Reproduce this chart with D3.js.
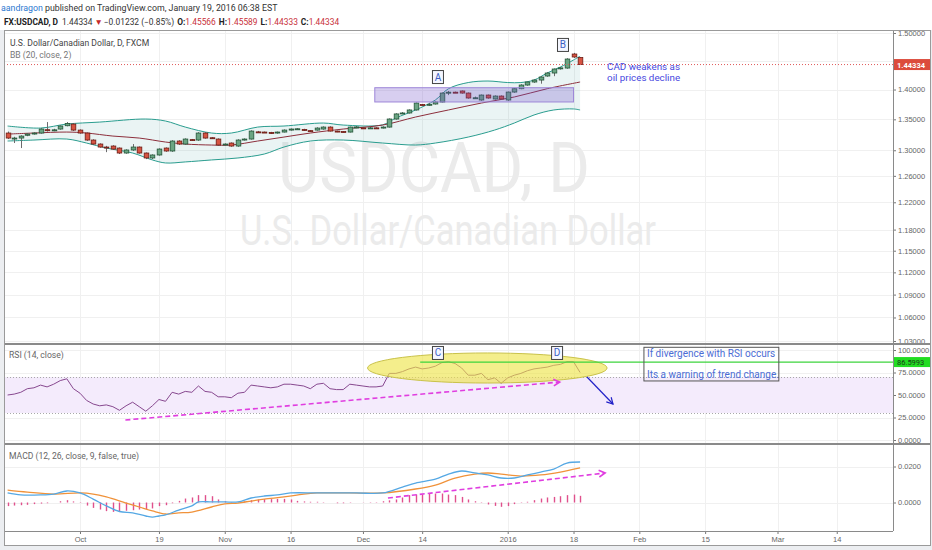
<!DOCTYPE html>
<html lang="en">
<head>
<meta charset="utf-8">
<title>USDCAD, D</title>
<script src="https://cdn.jsdelivr.net/npm/d3@7"></script>
<style>
  body { margin: 0; background: #fff; }
  svg { display: block; font-family: Roboto, "Liberation Sans", sans-serif; }
</style>
</head>
<body>
<script>
// ---- data (bar index 0 = Sep 16 2015, 87 = Jan 19 2016) ----
const tickIdx = [11, 23, 33, 43, 54, 63, 76, 86, 96, 106, 117, 126];
const tickLab = ["Oct", "19", "Nov", "16", "Dec", "14", "2016", "18", "Feb", "15", "Mar", "14"];

const open = [1.3276,1.3180,1.3195,1.3240,1.3265,1.3276,1.3330,1.3318,1.3341,1.3395,
  1.3422,1.3324,1.3276,1.3163,1.3099,1.3051,1.3067,1.3035,1.2956,1.3004,
  1.3051,1.2956,1.2878,1.2925,1.3035,1.2988,1.3147,1.3099,1.3170,1.3163,
  1.3276,1.3200,1.3179,1.3090,1.3115,1.3067,1.3165,1.3179,1.3295,1.3292,
  1.3285,1.3276,1.3292,1.3324,1.3341,1.3335,1.3315,1.3324,1.3341,1.3373,
  1.3308,1.3300,1.3292,1.3370,1.3360,1.3357,1.3360,1.3357,1.3373,1.3505,
  1.3595,1.3605,1.3655,1.3745,1.3740,1.3755,1.3788,1.3945,1.3955,1.3975,
  1.3940,1.3855,1.3822,1.3906,1.3839,1.3889,1.3822,1.3957,1.4014,1.4077,
  1.4129,1.4163,1.4233,1.4285,1.4360,1.4372,1.4620,1.45566];
const high = [1.3300,1.3215,1.3240,1.3275,1.3290,1.3355,1.3455,1.3345,1.3400,1.3455,
  1.3440,1.3335,1.3285,1.3175,1.3110,1.3070,1.3080,1.3045,1.3015,1.3099,
  1.3060,1.2965,1.2935,1.3030,1.3045,1.3160,1.3160,1.3190,1.3180,1.3290,
  1.3290,1.3210,1.3190,1.3110,1.3125,1.3175,1.3190,1.3320,1.3310,1.3300,
  1.3295,1.3300,1.3335,1.3350,1.3355,1.3345,1.3320,1.3370,1.3385,1.3385,
  1.3315,1.3305,1.3380,1.3390,1.3375,1.3375,1.3370,1.3385,1.3515,1.3600,
  1.3620,1.3665,1.3780,1.3755,1.3775,1.3800,1.3950,1.3975,1.3965,1.3985,
  1.3950,1.3880,1.3915,1.3915,1.3900,1.3900,1.3965,1.4025,1.4090,1.4140,
  1.4175,1.4230,1.4300,1.4365,1.4390,1.4545,1.4640,1.45589];
const low = [1.3180,1.3115,1.3035,1.3225,1.3250,1.3265,1.3300,1.3305,1.3330,1.3385,
  1.3310,1.3265,1.3150,1.3085,1.3040,1.2970,1.3005,1.2940,1.2945,1.2990,
  1.2945,1.2860,1.2860,1.2915,1.2975,1.2975,1.3085,1.3085,1.3150,1.3150,
  1.3185,1.3180,1.3070,1.3080,1.3055,1.3055,1.3155,1.3170,1.3280,1.3280,
  1.3260,1.3265,1.3285,1.3315,1.3330,1.3310,1.3295,1.3315,1.3330,1.3300,
  1.3290,1.3285,1.3285,1.3355,1.3345,1.3345,1.3345,1.3350,1.3365,1.3495,
  1.3585,1.3595,1.3645,1.3730,1.3725,1.3745,1.3780,1.3905,1.3940,1.3930,
  1.3845,1.3840,1.3810,1.3845,1.3830,1.3825,1.3810,1.3945,1.4005,1.4065,
  1.4115,1.4100,1.4220,1.4230,1.4345,1.4360,1.4550,1.44333];
const close = [1.3195,1.3195,1.3227,1.3259,1.3276,1.3341,1.3320,1.3328,1.3390,1.3430,
  1.3324,1.3276,1.3163,1.3099,1.3051,1.3045,1.3019,1.2956,1.3004,1.3051,
  1.2956,1.2878,1.2925,1.3019,1.2988,1.3147,1.3099,1.3179,1.3160,1.3276,
  1.3195,1.3190,1.3083,1.3099,1.3067,1.3163,1.3179,1.3308,1.3290,1.3288,
  1.3270,1.3292,1.3324,1.3341,1.3345,1.3320,1.3305,1.3357,1.3373,1.3308,
  1.3300,1.3295,1.3373,1.3375,1.3357,1.3360,1.3355,1.3373,1.3505,1.3589,
  1.3605,1.3655,1.3771,1.3738,1.3750,1.3788,1.3940,1.3955,1.3950,1.3940,
  1.3856,1.3860,1.3906,1.3856,1.3889,1.3839,1.3957,1.4014,1.4077,1.4129,
  1.4163,1.4215,1.4285,1.4355,1.4375,1.4531,1.4567,1.44334];

// Bollinger bands (20, close, 2), sampled points
const bbUpIdx = [0,5,9,14,21,24,27,31,34,38,42,48,51,57,59,62,65,67,70,73,76,78,80,82,84,86,87];
const bbUp = [1.3390,1.3357,1.3422,1.3455,1.3505,1.3472,1.3373,1.3276,1.3276,1.3373,1.3390,1.3439,1.3406,1.3410,
  1.3522,1.3655,1.3822,1.4014,1.4120,1.4146,1.4120,1.4120,1.4163,1.4285,1.4390,1.4514,1.4582];
const bbMidIdx = [0,4,9,12,16,20,24,27,31,34,38,42,46,51,57,62,67,72,77,82,87];
const bbMid = [1.3259,1.3276,1.3292,1.3276,1.3227,1.3195,1.3131,1.3099,1.3083,1.3083,1.3147,1.3211,1.3276,
  1.3341,1.3406,1.3538,1.3655,1.3771,1.3873,1.4014,1.4129];
const bbLowIdx = [0,4,9,12,15,19,22,24,27,31,35,39,42,46,51,57,62,65,70,74,77,80,83,86,87];
const bbLow = [1.3147,1.3163,1.3179,1.3115,1.3035,1.2956,1.2847,1.2800,1.2816,1.2847,1.2878,1.2940,1.3051,
  1.3147,1.3163,1.3115,1.3083,1.3115,1.3211,1.3324,1.3439,1.3572,1.3655,1.3672,1.3655];

// RSI (14, close), one value per bar
const rsi = [50,51,53,57,58,61,59,62,66,68, 57,52,44,40,38,39,37,33,38,42,
  37,32,38,45,43,53,51,54,53,60, 54,53,48,48,47,52,53,61,60,59,
  58,59,62,62,61,60,57,62,63,57, 56,56,62,61,60,59,59,60,74,74,
  76,79,81,79,80,82,86,87,85,80, 72,72,74,67,69,63,69,72,74,77,
  79,80,81,83,84,87,87,75];

// MACD (12, 26, close, 9)
const macdIdx = [0,2,5,7,9,11,13,15,17,19,21,22,23,24,26,28,29,31,33,35,37,39,41,43,47,53,57,60,62,65,67,69,71,73,75,77,79,81,83,85,87];
const macdVal = [0.0053,0.0042,0.0042,0.0047,0.0064,0.0053,0.0019,-0.0019,-0.0050,-0.0058,-0.0075,-0.0081,-0.0075,-0.0069,
  -0.0042,-0.0019,0.0003,0.0003,0.0003,0.0003,0.0025,0.0036,0.0042,0.0053,0.0053,0.0053,0.0053,0.0086,0.0108,0.0130,
  0.0158,0.0175,0.0164,0.0153,0.0136,0.0136,0.0153,0.0169,0.0186,0.0219,0.0225];
const sigIdx = [0,3,7,11,13,15,18,20,22,24,26,28,31,33,35,37,39,42,45,47,52,57,62,65,68,71,73,75,78,81,84,87];
const sigVal = [0.0069,0.0058,0.0047,0.0053,0.0047,0.0031,-0.0003,-0.0025,-0.0047,-0.0064,-0.0058,-0.0053,-0.0025,
  -0.0008,-0.0003,0.0008,0.0019,0.0031,0.0047,0.0053,0.0053,0.0053,0.0075,0.0097,0.0136,0.0158,0.0164,0.0158,
  0.0147,0.0153,0.0169,0.0192];
const hist = [-0.0020,-0.0017,-0.0015,-0.0013,-0.0009,-0.0006,-0.0004,0,0.0007,0.0013,
  0.0006,-0.0002,-0.0017,-0.0030,-0.0039,-0.0048,-0.0052,-0.0052,-0.0046,-0.0043,
  -0.0039,-0.0037,-0.0033,-0.0020,-0.0015,-0.0004,0.0009,0.0022,0.0028,0.0041,
  0.0041,0.0035,0.0017,0.0007,0.0002,0.0002,0.0006,0.0013,0.0017,0.0019,
  0.0019,0.0020,0.0020,0.0017,0.0009,0.0006,0.0004,0.0004,0.0002,0,
  -0.0004,-0.0004,-0.0002,0,-0.0001,0.0002,0.0002,0.0007,0.0012,0.0017,
  0.0028,0.0041,0.0044,0.0046,0.0050,0.0050,0.0050,0.0044,0.0041,0.0031,
  0.0017,0.0007,0.0002,-0.0011,-0.0019,-0.0024,-0.0020,-0.0009,-0.0002,0.0004,
  0.0013,0.0022,0.0028,0.0031,0.0035,0.0041,0.0044,0.0037];

const priceGrid = [1.5,1.45,1.4,1.35,1.3,1.26,1.22,1.18,1.15,1.12,1.09,1.06,1.03];
const priceTicks = [1.5,1.4,1.35,1.3,1.26,1.22,1.18,1.15,1.12,1.09,1.06,1.03]; // 1.45 sits under the last-price tag
const rsiTicks = [100,75,50,25,0];
const macdTicks = [0.02,0];
const lastPrice = 1.44334;
const rsiLevel = 86.5993;

// ---- layout ----
const W = 932, H = 550;
const L = 4, R = 893;
const pane = { price: [31, 343], rsi: [345, 443], macd: [445, 531] };

const svg = d3.select("body").append("svg").attr("width", W).attr("height", H);

const x = d3.scaleLinear().domain([0, 87]).range([7.6, 580.1]);
const yP = d3.scaleLog().domain([1.03, 1.5]).range([341, 33]);
const yR = d3.scaleLinear().domain([0, 100]).range([440, 350]);
const yM = d3.scaleLinear().domain([0, 0.02]).range([502.5, 466.5]);

// background / frame
svg.append("rect").attr("width", W).attr("height", H).attr("fill", "#eceef1");
svg.append("rect").attr("width", W).attr("height", 30).attr("fill", "#fff");
svg.append("rect").attr("x", L).attr("y", 30).attr("width", W - L - 1).attr("height", 516).attr("fill", "#fff");

const defs = svg.append("defs");
Object.entries(pane).forEach(([k, p]) => {
  defs.append("clipPath").attr("id", "clip-" + k).append("rect")
    .attr("x", L).attr("y", p[0]).attr("width", R - L).attr("height", p[1] - p[0]);
});

// grid
const grid = svg.append("g").attr("stroke", "#f0f0f0").attr("stroke-width", 1);
grid.selectAll(".vg").data(tickIdx).join("line")
  .attr("x1", d => Math.round(x(d)) + 0.5).attr("x2", d => Math.round(x(d)) + 0.5)
  .attr("y1", pane.price[0]).attr("y2", pane.macd[1]);
grid.selectAll(".hp").data(priceGrid).join("line")
  .attr("x1", L).attr("x2", R).attr("y1", d => Math.round(yP(d)) + 0.5).attr("y2", d => Math.round(yP(d)) + 0.5);
grid.selectAll(".hr").data(rsiTicks).join("line")
  .attr("x1", L).attr("x2", R).attr("y1", d => Math.round(yR(d)) + 0.5).attr("y2", d => Math.round(yR(d)) + 0.5);
grid.selectAll(".hm").data(macdTicks).join("line")
  .attr("x1", L).attr("x2", R).attr("y1", d => Math.round(yM(d)) + 0.5).attr("y2", d => Math.round(yM(d)) + 0.5);

// watermark
svg.append("text").attr("x", 278).attr("y", 192).attr("font-size", 70)
  .attr("textLength", 312).attr("lengthAdjust", "spacingAndGlyphs")
  .attr("fill", "#ebebeb").text("USDCAD, D");
svg.append("text").attr("x", 240).attr("y", 245).attr("font-size", 42)
  .attr("textLength", 416).attr("lengthAdjust", "spacingAndGlyphs")
  .attr("fill", "#ebebeb").text("U.S. Dollar/Canadian Dollar");

// ---- price pane ----
const gP = svg.append("g").attr("clip-path", "url(#clip-price)");
const pts = (idx, val) => idx.map((d, i) => [d, val[i]]);
const lineP = d3.line().x(d => x(d[0])).y(d => yP(d[1])).curve(d3.curveCatmullRom.alpha(0.5));
const upPts = pts(bbUpIdx, bbUp), lowPts = pts(bbLowIdx, bbLow);
gP.append("path")
  .attr("d", lineP(upPts) + lineP(lowPts.slice().reverse()).replace(/^M/, "L") + "Z")
  .attr("fill", "rgba(25,135,135,0.09)");
gP.append("path").attr("d", lineP(upPts)).attr("fill", "none").attr("stroke", "#2a9d8f").attr("stroke-width", 1);
gP.append("path").attr("d", lineP(lowPts)).attr("fill", "none").attr("stroke", "#2a9d8f").attr("stroke-width", 1);
gP.append("path").attr("d", lineP(pts(bbMidIdx, bbMid))).attr("fill", "none").attr("stroke", "#8d2f3c").attr("stroke-width", 1);

// candles
const bw = 4.6;
const candles = gP.selectAll(".candle").data(d3.range(open.length)).join("g");
candles.append("line")
  .attr("x1", i => Math.round(x(i)) + 0.5).attr("x2", i => Math.round(x(i)) + 0.5)
  .attr("y1", i => yP(high[i])).attr("y2", i => yP(low[i]))
  .attr("stroke", "#6b6b6d").attr("stroke-width", 1);
candles.append("rect")
  .attr("x", i => Math.round(x(i)) + 0.5 - bw / 2)
  .attr("y", i => yP(Math.max(open[i], close[i])))
  .attr("width", bw)
  .attr("height", i => Math.max(1, yP(Math.min(open[i], close[i])) - yP(Math.max(open[i], close[i]))))
  .attr("fill", i => close[i] >= open[i] ? "#6ba583" : "#d75442")
  .attr("stroke", i => close[i] >= open[i] ? "#225437" : "#6b1a13")
  .attr("stroke-width", 0.8);

// consolidation box
const box = { i0: 55.8, i1: 86, p0: 1.4031, p1: 1.3789 };
gP.append("rect")
  .attr("x", x(box.i0)).attr("y", yP(box.p0))
  .attr("width", x(box.i1) - x(box.i0)).attr("height", yP(box.p1) - yP(box.p0))
  .attr("fill", "rgba(110,80,200,0.28)").attr("stroke", "#9d86d8").attr("stroke-width", 1);

// last price dotted line
gP.append("line").attr("x1", L).attr("x2", R)
  .attr("y1", yP(lastPrice)).attr("y2", yP(lastPrice))
  .attr("stroke", "#e05a5a").attr("stroke-width", 1).attr("stroke-dasharray", "1,2");

function tag(g, cx, cy, label) {
  g.append("rect").attr("x", cx - 5.5).attr("y", cy - 6.5).attr("width", 11).attr("height", 13)
    .attr("fill", "#f4f6ff").attr("stroke", "#444").attr("stroke-width", 1);
  g.append("text").attr("x", cx).attr("y", cy + 3.5).attr("text-anchor", "middle")
    .attr("font-size", 10).attr("fill", "#3d5fc4").text(label);
}
tag(svg, x(65.4), yP(1.4215), "A");
tag(svg, x(84.4), yP(1.4783), "B");

const note1 = svg.append("text").attr("font-size", 9.8).attr("fill", "#4848e0");
note1.append("tspan").attr("x", x(91.1)).attr("y", yP(1.4375) + 2.5).text("CAD weakens as");
note1.append("tspan").attr("x", x(91.1)).attr("y", yP(1.4375) + 13.5).text("oil prices decline");

// ---- RSI pane ----
const gR = svg.append("g").attr("clip-path", "url(#clip-rsi)");
gR.append("rect").attr("x", L).attr("width", R - L)
  .attr("y", yR(70)).attr("height", yR(30) - yR(70)).attr("fill", "#f4ebfc");
[70, 30].forEach(v => gR.append("line").attr("x1", L).attr("x2", R)
  .attr("y1", Math.round(yR(v)) + 0.5).attr("y2", Math.round(yR(v)) + 0.5)
  .attr("stroke", "#a8a8a8").attr("stroke-dasharray", "1,2"));
gR.append("path")
  .attr("d", d3.line().x((d, i) => x(i)).y(d => yR(d))(rsi))
  .attr("fill", "none").attr("stroke", "#87488f").attr("stroke-width", 1);

gR.append("ellipse")
  .attr("cx", x(72.9)).attr("cy", yR(80))
  .attr("rx", x(18.2) - x(0)).attr("ry", yR(0) - yR(16.7))
  .attr("fill", "rgba(238,228,70,0.62)").attr("stroke", "#c9c24a").attr("stroke-width", 1);

gR.append("line").attr("x1", x(62.7)).attr("x2", R)
  .attr("y1", yR(rsiLevel)).attr("y2", yR(rsiLevel))
  .attr("stroke", "#3cd43c").attr("stroke-width", 1.3);

function arrow(g, x1, y1, x2, y2, color, width, dash, head) {
  g.append("line").attr("x1", x1).attr("y1", y1).attr("x2", x2).attr("y2", y2)
    .attr("stroke", color).attr("stroke-width", width).attr("stroke-dasharray", dash);
  const a = Math.atan2(y2 - y1, x2 - x1), s = 0.5;
  g.append("path")
    .attr("d", `M${x2 - head * Math.cos(a - s)},${y2 - head * Math.sin(a - s)}L${x2},${y2}L${x2 - head * Math.cos(a + s)},${y2 - head * Math.sin(a + s)}`)
    .attr("fill", "none").attr("stroke", color).attr("stroke-width", width);
}
arrow(gR, x(17.9), yR(22.2), x(83.9), yR(64.4), "#e03ee0", 1.6, "5,3", 7);
arrow(gR, x(88.05), yR(70), x(92), yR(40), "#2222c8", 1.2, null, 7);

const nb = { i0: 96.7, i1: 117.2, v0: 103, v1: 65.6 };
gR.append("rect").attr("x", x(nb.i0)).attr("y", yR(nb.v0))
  .attr("width", x(nb.i1) - x(nb.i0)).attr("height", yR(nb.v1) - yR(nb.v0))
  .attr("fill", "none").attr("stroke", "#555").attr("stroke-width", 1);
const note2 = gR.append("text").attr("font-size", 10).attr("fill", "#4c6cd4");
note2.append("tspan").attr("x", x(nb.i0) + 3).attr("y", yR(92.5)).text("If divergence with RSI occurs");
note2.append("tspan").attr("x", x(nb.i0) + 3).attr("y", yR(69)).text("Its a warning of trend change.");

tag(svg, x(65.4), yR(96.7), "C");
tag(svg, x(83.5), yR(96.7), "D");

// ---- MACD pane ----
const gM = svg.append("g").attr("clip-path", "url(#clip-macd)");
gM.selectAll(".hb").data(hist).join("line")
  .attr("x1", (d, i) => Math.round(x(i)) + 0.5).attr("x2", (d, i) => Math.round(x(i)) + 0.5)
  .attr("y1", yM(0)).attr("y2", d => yM(d))
  .attr("stroke", "#e0508c").attr("stroke-width", 1.4);
const lineM = d3.line().x(d => x(d[0])).y(d => yM(d[1])).curve(d3.curveCatmullRom.alpha(0.5));
gM.append("path").attr("d", lineM(pts(sigIdx, sigVal))).attr("fill", "none").attr("stroke", "#f0923a").attr("stroke-width", 1.3);
gM.append("path").attr("d", lineM(pts(macdIdx, macdVal))).attr("fill", "none").attr("stroke", "#55a8e4").attr("stroke-width", 1.3);
arrow(gM, x(57.8), yM(0.0025), x(90.8), yM(0.0164), "#e03ee0", 1.6, "5,3", 7);

// ---- axes ----
const axisStyle = g => {
  g.select(".domain").remove();
  g.selectAll("line").attr("stroke", "#777");
  g.selectAll("text").attr("fill", "#666").attr("font-size", 7.5);
};
svg.append("g").attr("transform", `translate(${R},0)`)
  .call(d3.axisRight(yP).tickValues(priceTicks).tickFormat(d3.format(".5f")).tickSize(3).tickPadding(2))
  .call(axisStyle);
svg.append("g").attr("transform", `translate(${R},0)`)
  .call(d3.axisRight(yR).tickValues(rsiTicks).tickFormat(d3.format(".4f")).tickSize(3).tickPadding(2))
  .call(axisStyle);
svg.append("g").attr("transform", `translate(${R},0)`)
  .call(d3.axisRight(yM).tickValues(macdTicks).tickFormat(d3.format(".4f")).tickSize(3).tickPadding(2))
  .call(axisStyle);
svg.append("g").attr("transform", `translate(0,${pane.macd[1]})`)
  .call(d3.axisBottom(x).tickValues(tickIdx).tickFormat((d, i) => tickLab[i]).tickSize(3).tickPadding(3))
  .call(axisStyle);

// axis value labels
const yl = yP(lastPrice);
svg.append("rect").attr("x", R + 1).attr("y", yl - 5.5).attr("width", 37).attr("height", 11).attr("fill", "#dc4b3c");
svg.append("text").attr("x", R + 4).attr("y", yl + 3).attr("font-size", 7.5).attr("font-weight", "bold")
  .attr("fill", "#fff").text(d3.format(".5f")(lastPrice));
const yg = yR(rsiLevel);
svg.append("rect").attr("x", R + 1).attr("y", yg - 5).attr("width", 36).attr("height", 10).attr("fill", "#22dd22");
svg.append("text").attr("x", R + 4).attr("y", yg + 3).attr("font-size", 7.5)
  .attr("fill", "#1a3a1a").text(d3.format(".4f")(rsiLevel));

// separators and frame
const frame = svg.append("g").attr("fill", "none");
frame.append("line").attr("x1", R + 0.5).attr("x2", R + 0.5).attr("y1", 30).attr("y2", pane.macd[1]).attr("stroke", "#8a8a8a");
[344, 444].forEach(y => frame.append("line").attr("x1", L).attr("x2", 931).attr("y1", y).attr("y2", y)
  .attr("stroke", "#8a8a8a").attr("stroke-width", 2));
frame.append("line").attr("x1", L).attr("x2", R).attr("y1", pane.macd[1] + 0.5).attr("y2", pane.macd[1] + 0.5).attr("stroke", "#8a8a8a");
frame.append("rect").attr("x", L + 0.5).attr("y", 30.5).attr("width", 926).attr("height", 515).attr("stroke", "#9a9a9a");

// pane titles
svg.append("text").attr("x", 10).attr("y", 46).attr("font-size", 8.6).attr("fill", "#444").text("U.S. Dollar/Canadian Dollar, D, FXCM");
svg.append("text").attr("x", 10).attr("y", 58).attr("font-size", 8.6).attr("fill", "#777").text("BB (20, close, 2)");
svg.append("text").attr("x", 9).attr("y", 358).attr("font-size", 8.6).attr("fill", "#666").text("RSI (14, close)");
svg.append("text").attr("x", 9).attr("y", 459).attr("font-size", 8.6).attr("fill", "#666").text("MACD (12, 26, close, 9, false, true)");

// header
const h1 = svg.append("text").attr("x", 1).attr("y", 11).attr("font-size", 8.8);
h1.append("tspan").attr("fill", "#2b78d0").text("aandragon");
h1.append("tspan").attr("fill", "#333").text(" published on TradingView.com, January 19, 2016 06:38 EST");

const hdr = [
  { t: "FX:USDCAD, D", c: "#222", b: true, dx: 0 },
  { t: "1.44334", c: "#333", b: false, dx: 4 },
  { t: "\u25BC", c: "#c62a2a", b: false, dx: 2 },
  { t: "\u22120.01232 (\u22120.85%)", c: "#333", b: false, dx: 1 },
  { t: "O:", c: "#222", b: true, dx: 3 },
  { t: "1.45566", c: "#c8303a", b: false, dx: 0 },
  { t: "H:", c: "#222", b: true, dx: 3 },
  { t: "1.45589", c: "#c8303a", b: false, dx: 0 },
  { t: "L:", c: "#222", b: true, dx: 3 },
  { t: "1.44333", c: "#c8303a", b: false, dx: 0 },
  { t: "C:", c: "#222", b: true, dx: 3 },
  { t: "1.44334", c: "#c8303a", b: false, dx: 0 }
];
svg.append("text").attr("x", 4).attr("y", 25).attr("font-size", 8.4)
  .selectAll("tspan").data(hdr).join("tspan")
  .attr("dx", d => d.dx)
  .attr("font-weight", d => d.b ? "bold" : "normal")
  .attr("fill", d => d.c).text(d => d.t);
</script>
</body>
</html>
